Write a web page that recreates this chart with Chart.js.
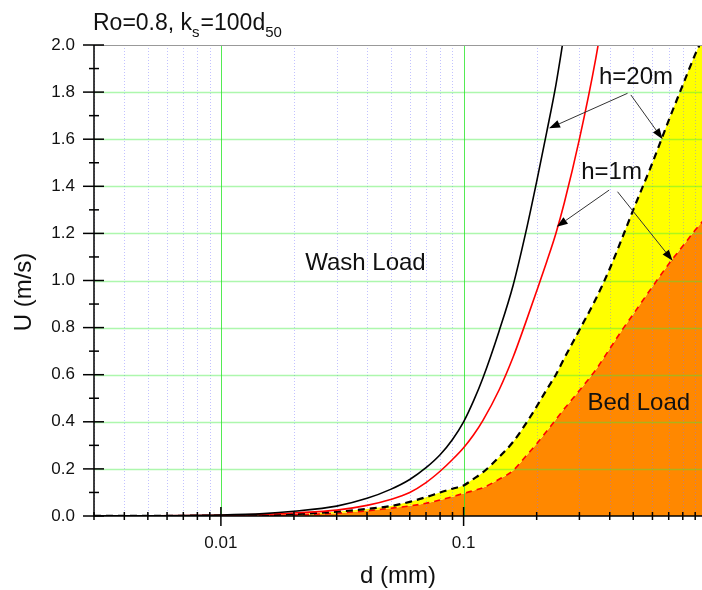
<!DOCTYPE html>
<html>
<head>
<meta charset="utf-8">
<script src="https://cdn.jsdelivr.net/npm/chart.js@4.4.0/dist/chart.umd.min.js"></script>
<style>
    html, body { margin: 0; padding: 0; background: #fff; }
    #wrap { width: 702px; height: 590px; }
</style>
</head>
<body>
<div id="wrap"><canvas id="myChart" width="702" height="590"></canvas></div>
<script>
// grain size d (mm) and the four threshold curves U (m/s)
const dValues = [0.003, 0.005, 0.01, 0.015, 0.02, 0.03, 0.04, 0.05, 0.06, 0.07, 0.08, 0.09,
    0.1, 0.11, 0.12, 0.14, 0.16, 0.18, 0.2, 0.22, 0.24, 0.26, 0.3, 0.35, 0.4, 0.45, 0.5,
    0.6, 0.7, 0.8, 0.9, 1.0];
const washH20 = [0.0005, 0.001, 0.004, 0.01, 0.02, 0.042, 0.075, 0.113, 0.155, 0.205, 0.26, 0.325,
    0.40, 0.49, 0.585, 0.785, 0.98, 1.2, 1.42, 1.63, 1.83, 2.05, null, null, null, null, null,
    null, null, null, null, null];
const washH1 = [0.0003, 0.0007, 0.003, 0.007, 0.013, 0.025, 0.045, 0.07, 0.1, 0.142, 0.19, 0.24,
    0.29, 0.345, 0.405, 0.535, 0.675, 0.82, 0.955, 1.08, 1.2, 1.33, 1.6, 1.94, 2.3, null, null,
    null, null, null, null, null];
const bedH20 = [0.0002, 0.0005, 0.002, 0.004, 0.008, 0.018, 0.03, 0.042, 0.06, 0.08, 0.1, 0.116,
    0.13, 0.158, 0.185, 0.25, 0.315, 0.39, 0.465, 0.537, 0.6, 0.67, 0.79, 0.92, 1.05, 1.18, 1.3,
    1.5, 1.68, 1.83, 1.96, 2.06];
const bedH1 = [0.0001, 0.0003, 0.001, 0.002, 0.005, 0.012, 0.022, 0.033, 0.043, 0.054, 0.068, 0.082,
    0.096, 0.108, 0.12, 0.156, 0.193, 0.253, 0.307, 0.36, 0.41, 0.455, 0.533, 0.62, 0.71, 0.79, 0.857,
    0.974, 1.07, 1.146, 1.214, 1.27];

// axes
const xMajorTicks = [0.01, 0.1];
const xTickLabels = ['0.01', '0.1'];
const xMinorTicks = [0.003, 0.004, 0.005, 0.006, 0.007, 0.008, 0.009,
    0.02, 0.03, 0.04, 0.05, 0.06, 0.07, 0.08, 0.09,
    0.2, 0.3, 0.4, 0.5, 0.6, 0.7, 0.8, 0.9];
const yTicks = [0, 0.2, 0.4, 0.6, 0.8, 1.0, 1.2, 1.4, 1.6, 1.8, 2.0];

// text labels and arrows (data coordinates)
const noteTexts = ['Wash Load', 'Bed Load', 'h=20m', 'h=1m'];
const noteX = [0.0394, 0.527, 0.513, 0.407];
const noteY = [1.074, 0.48, 1.864, 1.458];
const arrowFrom = [[0.4737, 1.795], [0.4888, 1.788], [0.398, 1.384], [0.4307, 1.377]];
const arrowTo = [[0.2249, 1.646], [0.6607, 1.60], [0.2419, 1.228], [0.7265, 1.084]];

const FONT = "'Liberation Sans', Arial, sans-serif";

function pts(arr) {
    return dValues.map((d, i) => ({ x: d, y: arr[i] }));
}

const decor = {
    id: 'decor',
    beforeDatasetsDraw(chart) {
        const { ctx, chartArea: a, scales: { x, y } } = chart;
        ctx.save();
        ctx.beginPath();
        ctx.rect(a.left, a.top, a.right - a.left, a.bottom - a.top);
        ctx.clip();
        ctx.lineWidth = 1;
        // dotted minor verticals
        ctx.strokeStyle = 'rgba(120,120,255,0.45)';
        ctx.setLineDash([1, 2]);
        xMinorTicks.forEach(v => {
            const px = Math.round(x.getPixelForValue(v)) + 0.5;
            ctx.beginPath(); ctx.moveTo(px, a.top); ctx.lineTo(px, a.bottom); ctx.stroke();
        });
        ctx.setLineDash([]);
        // green major lines
        ctx.strokeStyle = 'rgba(60,235,60,0.42)';
        ctx.lineWidth = 1.5;
        yTicks.slice(1, -1).forEach(v => {
            const py = Math.round(y.getPixelForValue(v)) + 0.5;
            ctx.beginPath(); ctx.moveTo(a.left, py); ctx.lineTo(a.right, py); ctx.stroke();
        });
        ctx.strokeStyle = 'rgba(40,230,40,0.8)';
        ctx.lineWidth = 1;
        xMajorTicks.forEach(v => {
            const px = Math.round(x.getPixelForValue(v)) + 0.5;
            ctx.beginPath(); ctx.moveTo(px, a.top); ctx.lineTo(px, a.bottom); ctx.stroke();
        });
        ctx.restore();
    },
    afterDatasetsDraw(chart) {
        const { ctx, scales: { x, y } } = chart;
        ctx.save();
        ctx.fillStyle = '#111';
        ctx.font = '24px ' + FONT;
        ctx.textAlign = 'center';
        ctx.textBaseline = 'middle';
        noteTexts.forEach((t, i) => {
            ctx.fillText(t, x.getPixelForValue(noteX[i]), y.getPixelForValue(noteY[i]));
        });
        // arrows
        ctx.strokeStyle = '#333';
        ctx.fillStyle = '#000';
        ctx.lineWidth = 1;
        arrowFrom.forEach((f, i) => {
            const x0 = x.getPixelForValue(f[0]), y0 = y.getPixelForValue(f[1]);
            const x1 = x.getPixelForValue(arrowTo[i][0]), y1 = y.getPixelForValue(arrowTo[i][1]);
            const ang = Math.atan2(y1 - y0, x1 - x0);
            const len = 11, half = 4;
            ctx.beginPath(); ctx.moveTo(x0, y0);
            ctx.lineTo(x1 - Math.cos(ang) * len, y1 - Math.sin(ang) * len); ctx.stroke();
            ctx.beginPath();
            ctx.moveTo(x1, y1);
            ctx.lineTo(x1 - Math.cos(ang) * len - Math.sin(ang) * half, y1 - Math.sin(ang) * len + Math.cos(ang) * half);
            ctx.lineTo(x1 - Math.cos(ang) * len + Math.sin(ang) * half, y1 - Math.sin(ang) * len - Math.cos(ang) * half);
            ctx.closePath(); ctx.fill();
        });
        ctx.restore();
    },
    afterDraw(chart) {
        const { ctx, chartArea: a, scales: { x, y } } = chart;
        ctx.save();
        // frame
        ctx.lineWidth = 1;
        ctx.strokeStyle = '#999';
        ctx.beginPath(); ctx.moveTo(a.left, a.top + 0.5); ctx.lineTo(a.right, a.top + 0.5); ctx.stroke();
        ctx.strokeStyle = '#000';
        ctx.lineWidth = 1.5;
        ctx.beginPath(); ctx.moveTo(a.left, a.top); ctx.lineTo(a.left, a.bottom); ctx.lineTo(a.right, a.bottom); ctx.stroke();
        // tick marks, crossing the axes
        yTicks.forEach(v => {
            const py = y.getPixelForValue(v);
            ctx.beginPath(); ctx.moveTo(a.left - 11, py); ctx.lineTo(a.left + 10, py); ctx.stroke();
            if (v < 2) {
                const pm = y.getPixelForValue(v + 0.1);
                ctx.beginPath(); ctx.moveTo(a.left - 5, pm); ctx.lineTo(a.left + 5, pm); ctx.stroke();
            }
        });
        xMinorTicks.forEach(v => {
            const px = x.getPixelForValue(v);
            ctx.beginPath(); ctx.moveTo(px, a.bottom - 4); ctx.lineTo(px, a.bottom + 4); ctx.stroke();
        });
        xMajorTicks.forEach(v => {
            const px = x.getPixelForValue(v);
            ctx.beginPath(); ctx.moveTo(px, a.bottom - 9); ctx.lineTo(px, a.bottom + 10); ctx.stroke();
        });
        // title with subscripts
        ctx.fillStyle = '#111';
        ctx.textAlign = 'left';
        ctx.textBaseline = 'alphabetic';
        const parts = [['Ro=0.8, k', 0], ['s', 1], ['=100d', 0], ['50', 1]];
        let tx = 93;
        parts.forEach(p => {
            ctx.font = (p[1] ? '15px ' : '23px ') + FONT;
            ctx.fillText(p[0], tx, p[1] ? 37 : 30);
            tx += ctx.measureText(p[0]).width + (p[1] ? 1 : 0);
        });
        // axis titles
        ctx.font = '24px ' + FONT;
        ctx.textAlign = 'center';
        ctx.fillText('d (mm)', (a.left + a.right) / 2, 583);
        ctx.translate(24, 292);
        ctx.rotate(-Math.PI / 2);
        ctx.textBaseline = 'middle';
        ctx.fillText('U (m/s)', 0, 0);
        ctx.restore();
    }
};

const config = {
    type: 'line',
    data: {
        datasets: [
            { label: 'wash h=20m', data: pts(washH20), borderColor: '#000', borderWidth: 1.6, pointRadius: 0, fill: false, cubicInterpolationMode: 'monotone' },
            { label: 'wash h=1m', data: pts(washH1), borderColor: '#ff0000', borderWidth: 1.6, pointRadius: 0, fill: false, cubicInterpolationMode: 'monotone' },
            { label: 'bed h=20m', data: pts(bedH20), borderColor: '#000', borderWidth: 2.2, borderDash: [7, 5], pointRadius: 0, fill: 3, backgroundColor: '#ffff00', cubicInterpolationMode: 'monotone' },
            { label: 'bed h=1m', data: pts(bedH1), borderColor: '#ff0000', borderWidth: 1.6, borderDash: [6, 5], pointRadius: 0, fill: 'origin', backgroundColor: '#ff8800', cubicInterpolationMode: 'monotone' }
        ]
    },
    options: {
        responsive: false,
        animation: false,
        layout: { padding: { top: 45, right: 0, left: 0, bottom: 0 } },
        plugins: {
            legend: { display: false },
            tooltip: { enabled: false },
            filler: { drawTime: 'beforeDatasetsDraw' }
        },
        scales: {
            x: {
                type: 'logarithmic',
                min: 0.003,
                max: 0.96,
                afterBuildTicks: axis => {
                    axis.ticks = xMinorTicks.concat(xMajorTicks).sort((p, q) => p - q).map(v => ({ value: v }));
                },
                afterFit: s => { s.height = 74; s.paddingLeft = 0; s.paddingRight = 0; },
                grid: { display: false, drawTicks: false },
                border: { display: false },
                ticks: {
                    autoSkip: false,
                    maxRotation: 0,
                    padding: 17,
                    color: '#111',
                    font: { family: FONT, size: 17 },
                    callback: v => {
                        const k = xMajorTicks.indexOf(v);
                        return k >= 0 ? xTickLabels[k] : '';
                    }
                }
            },
            y: {
                min: 0,
                max: 2,
                afterFit: s => { s.width = 94; },
                grid: { display: false, drawTicks: false },
                border: { display: false },
                ticks: {
                    stepSize: 0.2,
                    padding: 19,
                    color: '#111',
                    font: { family: FONT, size: 17 },
                    callback: v => Number(v).toFixed(1)
                }
            }
        }
    },
    plugins: [decor]
};

const myChart = new Chart(document.getElementById('myChart'), config);
</script>
</body>
</html>
